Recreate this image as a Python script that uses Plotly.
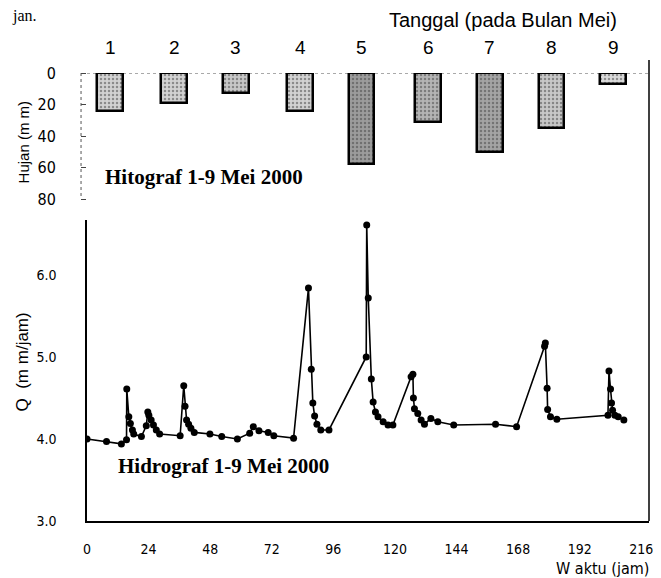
import plotly.graph_objects as go

# ---- data ----
day_labels = ["1", "2", "3", "4", "5", "6", "7", "8", "9"]
bar_hours = [9, 34, 58, 83, 107, 133, 157, 181, 205]
rain_mm = [24, 19, 13, 24, 58, 31, 50, 35, 7]
bar_colors = ["#d2d2d2", "#d2d2d2", "#c8c8c8", "#d2d2d2", "#9c9c9c",
              "#b4b4b4", "#a4a4a4", "#c8c8c8", "#dadada"]

t_hours = [0, 7.6, 13.4, 15.4, 15.5, 16.3, 16.9, 17.7, 18.2, 21.2,
           23.1, 23.7, 24.1, 25.0, 25.9, 27.0, 28.3, 36.3, 37.7, 38.2,
           38.8, 39.6, 40.5, 41.8, 47.9, 52.5, 58.6, 63.4, 64.8, 67.0,
           70.6, 72.8, 80.5, 86.3, 87.4, 88.0, 88.7, 89.6, 91.1, 94.3,
           108.8, 109.0, 109.6, 110.8, 111.5, 112.4, 113.4, 115.4, 117.3, 119.2,
           126.3, 127.0, 127.2, 127.6, 128.9, 130.2, 131.5, 134.0, 136.7, 142.9,
           159.2, 167.4, 178.3, 178.6, 179.3, 179.5, 180.6, 183.1, 203.0, 203.4,
           204.0, 204.4, 204.8, 205.7, 207.0, 209.2]
q_values = [4.00, 3.97, 3.94, 3.99, 4.61, 4.27, 4.19, 4.11, 4.06, 4.03,
            4.16, 4.33, 4.29, 4.23, 4.17, 4.11, 4.06, 4.04, 4.65, 4.40,
            4.23, 4.18, 4.13, 4.08, 4.06, 4.03, 4.00, 4.07, 4.15, 4.10,
            4.08, 4.04, 4.01, 5.84, 4.85, 4.44, 4.28, 4.18, 4.11, 4.11,
            5.00, 6.61, 5.72, 4.73, 4.45, 4.33, 4.27, 4.21, 4.17, 4.17,
            4.76, 4.79, 4.50, 4.37, 4.31, 4.23, 4.18, 4.25, 4.21, 4.17,
            4.18, 4.15, 5.13, 5.17, 4.62, 4.36, 4.27, 4.24, 4.29, 4.83,
            4.61, 4.44, 4.35, 4.29, 4.27, 4.23]

x_ticks = [0, 24, 48, 72, 96, 120, 144, 168, 192, 216]
x_ticktext = ["0", "24", "48", "72", "96", "120", "144", "168", "192", "216"]
q_ticks = [3, 4, 5, 6]
q_ticktext = ["3.0", "4.0", "5.0", "6.0"]
rain_ticks = [0, 20, 40, 60, 80]
rain_ticktext = ["0", "20", "40", "60", "80"]

# ---- layout geometry (page pixels; page body has an 8px margin) ----
OFF = 8
W, H = 653, 570
ML, MR, MT, MB = 79, 8, 65, 57
PW, PH = W - ML - MR, H - MT - MB


def px(xp):
    return (xp - OFF - ML) / PW


def py(yp):
    return (H - MB - (yp - OFF)) / PH


narrow = "Liberation Sans Narrow, DejaVu Sans Condensed, Arial Narrow, Liberation Sans, sans-serif"
serif = "Liberation Serif, Times New Roman, serif"
sans = "Liberation Sans, Arial, sans-serif"

fig = go.Figure()
fig.add_trace(go.Bar(
    x=bar_hours, y=rain_mm, width=10, xaxis="x2", yaxis="y2",
    marker=dict(color=bar_colors, line=dict(color="black", width=2.5),
                pattern=dict(shape=".", fgcolor="#5a5a5a", size=4, solidity=0.3)),
    showlegend=False,
))
fig.add_trace(go.Scatter(
    x=t_hours, y=q_values, mode="lines+markers", xaxis="x", yaxis="y",
    line=dict(color="black", width=1.6),
    marker=dict(color="black", size=7),
    showlegend=False,
))

fig.update_layout(
    width=W, height=H,
    margin=dict(l=ML, r=MR, t=MT, b=MB),
    paper_bgcolor="white", plot_bgcolor="white",
    bargap=0,
    xaxis=dict(domain=[0, 1], range=[0, 219], anchor="y",
               tickvals=x_ticks, ticktext=x_ticktext,
               showgrid=False, zeroline=False,
               showline=True, linecolor="black", linewidth=1.5,
               ticks="", ticklabelstandoff=14,
               tickfont=dict(family=narrow, size=14, color="black")),
    yaxis=dict(domain=[0, py(220)], range=[3.0, 6.67], anchor="x",
               tickvals=q_ticks, ticktext=q_ticktext,
               showgrid=False, zeroline=False,
               showline=True, linecolor="black", linewidth=1.5,
               ticks="", ticklabelstandoff=26,
               tickfont=dict(family=narrow, size=14, color="black")),
    xaxis2=dict(domain=[0, 1], range=[0, 219], anchor="y2",
                showticklabels=False, showgrid=False, zeroline=False,
                showline=False, ticks=""),
    yaxis2=dict(domain=[py(199), 1], range=[80, 0], anchor="x2",
                tickvals=rain_ticks, ticktext=rain_ticktext,
                showgrid=False, zeroline=False, showline=False,
                ticks="outside", ticklen=5, tickcolor="#444", tickwidth=1,
                ticklabelstandoff=22,
                tickfont=dict(family=narrow, size=16, color="black")),
)

shapes = [
    dict(type="line", xref="paper", yref="y2", x0=0, x1=1, y0=0, y1=0,
         line=dict(color="#555", width=1, dash="dot"), layer="below"),
    dict(type="line", xref="paper", yref="y2", x0=px(81), x1=px(81), y0=0, y1=80,
         line=dict(color="#555", width=1, dash="dot")),
    dict(type="line", xref="paper", yref="paper", x0=1, x1=1, y0=0, y1=py(60),
         line=dict(color="black", width=1.5)),
]

annotations = []
for d, xh in zip(day_labels, bar_hours):
    annotations.append(dict(x=xh, xref="x2", y=py(47), yref="paper", text=d,
                            showarrow=False, xanchor="center", yanchor="middle",
                            font=dict(family=sans, size=19, color="black")))
annotations += [
    dict(x=px(506), y=py(20), xref="paper", yref="paper", showarrow=False,
         text="Tanggal (pada Bulan Mei)", xanchor="center", yanchor="middle",
         font=dict(family=sans, size=20, color="black")),
    dict(x=px(103), y=py(177), xref="paper", yref="paper", showarrow=False,
         text="<b>Hitograf 1-9 Mei 2000</b>", xanchor="left", yanchor="middle",
         font=dict(family=serif, size=21, color="black")),
    dict(x=px(116), y=py(466), xref="paper", yref="paper", showarrow=False,
         text="<b>Hidrograf 1-9 Mei 2000</b>", xanchor="left", yanchor="middle",
         font=dict(family=serif, size=21, color="black")),
    dict(x=px(24), y=py(142), xref="paper", yref="paper", showarrow=False,
         text="Hujan (m m)", textangle=-90, xanchor="center", yanchor="middle",
         font=dict(family=sans, size=15, color="black")),
    dict(x=px(22), y=py(362), xref="paper", yref="paper", showarrow=False,
         text="Q  (m m/jam)", textangle=-90, xanchor="center", yanchor="middle",
         font=dict(family=sans, size=17, color="black")),
    dict(x=px(655), y=py(568), xref="paper", yref="paper", showarrow=False,
         text="W aktu (jam)", xanchor="right", yanchor="middle",
         font=dict(family=narrow, size=16, color="black")),
    dict(x=px(9), y=py(16), xref="paper", yref="paper", showarrow=False,
         text="jan.", xanchor="left", yanchor="middle",
         font=dict(family=serif, size=16, color="black")),
]

fig.update_layout(shapes=shapes, annotations=annotations)
fig.write_html("out.html")
